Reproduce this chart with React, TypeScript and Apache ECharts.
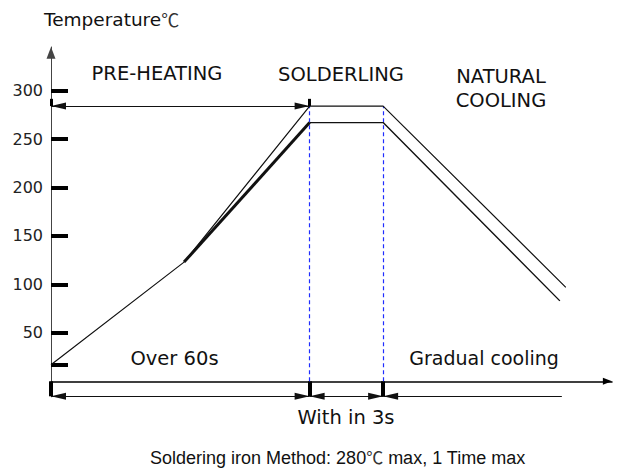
import React, { useEffect, useRef } from 'react';
import * as echarts from 'echarts';

// ---- data ----
const yLabelValues = [50, 100, 150, 200, 250, 300];
const yTickValues = [17, 50, 100, 150, 200, 250, 300];
const phaseBoundaryTimes = [0, 52.1, 66.9]; // start, end of preheat, end of soldering
const upperTimes = [0, 26.8, 52.1, 66.9, 103.7];
const upperTemps = [17, 123, 284, 284, 97];
const lowerTimes = [26.8, 52.1, 66.9, 102.5];
const lowerTemps = [123, 267, 267, 83];
const topDimTemp = 284;
const topMarkTemp = 291.5;
const bottomDimTemp = -15.5;
const coolingDimEndTime = 102.9;
const tempMin = -16;
const tempMax = 345;
const timeMax = 113;

const ARROW = 'path://M5,0 M5,13 L10,26 L0,26 Z';
const FONT = 'DejaVu Sans';
const CJK = 'Noto Sans CJK KR';
const INK = '#111';

const pairs = (xs: number[], ys: number[]) => xs.map((x, i) => [x, ys[i]]);

const option: any = {
  animation: false,
  backgroundColor: '#fff',
  grid: { left: 51, right: 7, top: 47, bottom: 73.2, outerBoundsMode: 'none' },
  xAxis: {
    type: 'value',
    min: 0,
    max: timeMax,
    splitLine: { show: false },
    axisLabel: { show: false },
    axisLine: {
      show: true,
      onZero: true,
      symbol: ['none', ARROW],
      symbolSize: [7, 58],
      lineStyle: { color: '#000', width: 1.5 },
    },
    axisTick: {
      show: true,
      customValues: phaseBoundaryTimes,
      length: 15,
      inside: false,
      lineStyle: { color: '#000', width: 4 },
    },
  },
  yAxis: {
    type: 'value',
    min: tempMin,
    max: tempMax,
    splitLine: { show: false },
    axisLine: {
      show: true,
      onZero: true,
      symbol: ['none', ARROW],
      symbolSize: [9, 42],
      lineStyle: { color: '#444', width: 1 },
    },
    axisTick: {
      show: true,
      customValues: yTickValues,
      inside: true,
      length: 17,
      lineStyle: { color: '#000', width: 4 },
    },
    axisLabel: {
      customValues: yLabelValues,
      margin: 8,
      fontSize: 16,
      fontFamily: FONT,
      color: '#222',
    },
  },
  series: [
    {
      type: 'line',
      data: pairs(upperTimes, upperTemps),
      symbol: 'none',
      silent: true,
      lineStyle: { color: INK, width: 1.2 },
      z: 5,
    },
    {
      type: 'line',
      data: pairs(lowerTimes.slice(0, 2), lowerTemps.slice(0, 2)),
      symbol: 'none',
      silent: true,
      lineStyle: { color: INK, width: 3 },
      z: 5,
    },
    {
      type: 'line',
      data: pairs(lowerTimes.slice(1), lowerTemps.slice(1)),
      symbol: 'none',
      silent: true,
      lineStyle: { color: INK, width: 1.4 },
      z: 5,
    },
    {
      type: 'line',
      data: [],
      silent: true,
      color: '#1f2dff',
      markLine: {
        silent: true,
        symbol: ['none', 'none'],
        label: { show: false },
        itemStyle: { color: '#1f2dff' },
        lineStyle: { color: '#1f2dff', width: 1.2, type: [4, 3], opacity: 1 },
        data: phaseBoundaryTimes.slice(1).map((t) => [
          { coord: [t, 0] },
          { coord: [t, topDimTemp] },
        ]),
      },
      z: 3,
    },
    {
      type: 'line',
      data: [],
      silent: true,
      color: '#000',
      markLine: {
        silent: true,
        symbol: [ARROW, ARROW],
        symbolSize: [7, 30],
        label: { show: false },
        itemStyle: { color: '#000' },
        lineStyle: { color: INK, width: 1, type: 'solid', opacity: 1 },
        data: [
          [{ coord: [phaseBoundaryTimes[0], topDimTemp] }, { coord: [phaseBoundaryTimes[1], topDimTemp] }],
          [{ coord: [phaseBoundaryTimes[0], bottomDimTemp] }, { coord: [phaseBoundaryTimes[1], bottomDimTemp] }],
          [{ coord: [phaseBoundaryTimes[1], bottomDimTemp] }, { coord: [phaseBoundaryTimes[2], bottomDimTemp] }],
          [
            { coord: [phaseBoundaryTimes[2], bottomDimTemp], symbol: ARROW },
            { coord: [coolingDimEndTime, bottomDimTemp], symbol: 'none' },
          ],
        ],
      },
      z: 4,
    },
    {
      type: 'line',
      data: [],
      silent: true,
      color: '#000',
      markLine: {
        silent: true,
        symbol: ['none', 'none'],
        label: { show: false },
        lineStyle: { color: '#000', width: 3, type: 'solid', opacity: 1 },
        data: phaseBoundaryTimes.slice(0, 2).map((t) => [
          { coord: [t, topDimTemp] },
          { coord: [t, topMarkTemp] },
        ]),
      },
      z: 4,
    },
  ],
  graphic: [
    {
      type: 'text', x: 44, y: 19,
      style: {
        text: '{a|Temperature}{c|℃}', fill: INK, align: 'left', verticalAlign: 'middle',
        rich: {
          a: { fontSize: 18.5, fontFamily: FONT, fill: INK },
          c: { fontSize: 18, fontFamily: CJK, fill: '#333' },
        },
      },
    },
    { type: 'text', x: 157, y: 73, style: { text: 'PRE-HEATING', fontSize: 19.5, fontFamily: FONT, fill: INK, align: 'center', verticalAlign: 'middle' } },
    { type: 'text', x: 341, y: 74, style: { text: 'SOLDERLING', fontSize: 19.5, fontFamily: FONT, fill: INK, align: 'center', verticalAlign: 'middle' } },
    { type: 'text', x: 501, y: 76.5, style: { text: 'NATURAL', fontSize: 19.5, fontFamily: FONT, fill: INK, align: 'center', verticalAlign: 'middle' } },
    { type: 'text', x: 501, y: 100, style: { text: 'COOLING', fontSize: 19.5, fontFamily: FONT, fill: INK, align: 'center', verticalAlign: 'middle' } },
    { type: 'text', x: 174.5, y: 358.7, style: { text: 'Over 60s', fontSize: 19.5, fontFamily: FONT, fill: INK, align: 'center', verticalAlign: 'middle' } },
    { type: 'text', x: 484, y: 358.3, style: { text: 'Gradual cooling', fontSize: 19, fontFamily: FONT, fill: INK, align: 'center', verticalAlign: 'middle' } },
    { type: 'text', x: 346, y: 417.5, style: { text: 'With in 3s', fontSize: 19.5, fontFamily: FONT, fill: INK, align: 'center', verticalAlign: 'middle' } },
    {
      type: 'text', x: 150, y: 458.3,
      style: {
        text: '{a|Soldering iron Method: 280}{c|℃}{a| max, 1 Time max}', fill: INK, align: 'left', verticalAlign: 'middle',
        rich: {
          a: { fontSize: 18, lineHeight: 22, fontFamily: 'Liberation Sans', fill: INK },
          c: { fontSize: 17, lineHeight: 22, fontFamily: CJK, fill: '#333', padding: [0, 0, 4, 0] },
        },
      },
    },
  ],
};

export default function App() {
  const ref = useRef<HTMLDivElement>(null);
  useEffect(() => {
    if (!ref.current) return;
    const chart = echarts.init(ref.current, null, { renderer: 'svg' });
    chart.setOption(option);
    return () => chart.dispose();
  }, []);
  return (
    <div
      ref={ref}
      style={{ position: 'fixed', left: 0, top: 0, width: 619, height: 470, background: '#fff' }}
    />
  );
}
